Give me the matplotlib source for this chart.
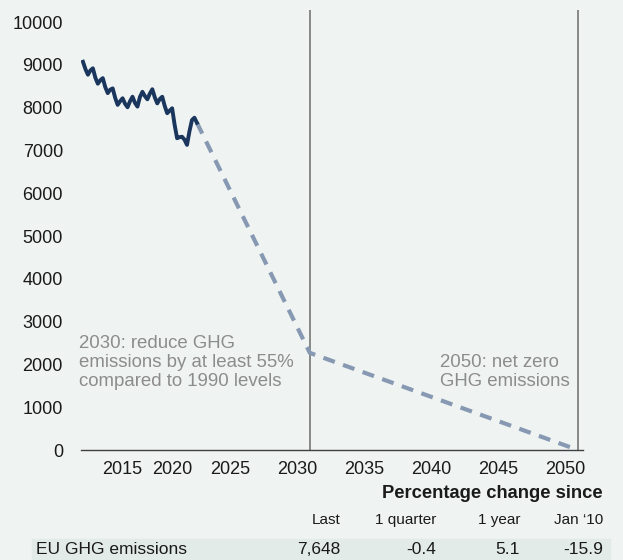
import numpy as np
import matplotlib
matplotlib.use("Agg")
from matplotlib import pyplot as plt
from matplotlib.patches import Rectangle

plt.rcParams['font.family'] = ['Liberation Sans', 'DejaVu Sans']

# quarterly EU GHG emissions, 2011Q1 - 2022Q3
start_year = 2011
emissions = [9072, 8900, 8770, 8870,
             8920, 8700, 8560, 8640,
             8690, 8480, 8340, 8420,
             8450, 8230, 8065, 8150,
             8220, 8090, 8010, 8150,
             8255, 8110, 8025, 8250,
             8370, 8270, 8195, 8330,
             8430, 8240, 8100, 8200,
             8255, 8040, 7870, 7930,
             7985, 7600, 7285, 7310,
             7320, 7250, 7130, 7450,
             7710, 7765, 7648]
quarters = start_year + np.arange(len(emissions)) / 4

# path to targets (end of 2030 and end of 2050)
target_years = [2022.5, 2030.92, 2050.92]
target_values = [7648, 2270, 0]
target_lines = [2030.92, 2050.92]

xticks = [2015, 2020, 2025, 2030, 2035, 2040, 2045, 2050]
yticks = [0, 1000, 2000, 3000, 4000, 5000, 6000, 7000, 8000, 9000, 10000]

table_cols = ["Last", "1 quarter", "1 year", "Jan \u201810"]
table_name = "EU GHG emissions"
table_vals = ["7,648", "-0.4", "5.1", "-15.9"]

bg = "#eff3f2"
navy = "#1b365d"
dash_col = "#8799b2"
grey_txt = "#8c8c8c"

# history is squeezed compared with the projection part
brk = 2022.5
k = 13.4 / 9.9


def fwd(x):
    x = np.asarray(x, dtype=float)
    return np.where(x <= brk, x - brk, (x - brk) * k)


def inv(y):
    y = np.asarray(y, dtype=float)
    return np.where(y <= 0, y + brk, y / k + brk)


fig = plt.figure(figsize=(6.23, 5.6), dpi=100, facecolor=bg)
ax = fig.add_axes([0.130, 0.1964, 0.806, 0.7856], facecolor=bg)
ax.set_xscale('function', functions=(fwd, inv))

for xl in target_lines:
    ax.axvline(xl, color="#7f7f7f", lw=1.3, zorder=1)

ax.plot(target_years, target_values, color=dash_col, lw=3, ls=(0, (2.9, 2.1)), zorder=2)
ax.plot(quarters, emissions, color=navy, lw=2.8, solid_joinstyle='round', zorder=3)

ax.set_xlim(2010.8, 2051.3)
ax.set_ylim(0, 10280)
ax.set_xticks(xticks)
ax.set_xticklabels([str(t) for t in xticks])
ax.set_yticks(yticks)
ax.xaxis.set_minor_locator(matplotlib.ticker.NullLocator())
ax.tick_params(axis='both', length=0, labelsize=13, colors="#1a1a1a")
ax.tick_params(axis='y', pad=13)
ax.tick_params(axis='x', pad=8)
for s in ['top', 'right', 'left']:
    ax.spines[s].set_visible(False)
ax.spines['bottom'].set_color("#404040")
ax.spines['bottom'].set_linewidth(1.0)

ax.text(2010.6, 2050, "2030: reduce GHG\nemissions by at least 55%\ncompared to 1990 levels",
        color=grey_txt, fontsize=13.4, ha='left', va='center', linespacing=1.16)
ax.text(2040.6, 1820, "2050: net zero\nGHG emissions",
        color=grey_txt, fontsize=13.4, ha='left', va='center', linespacing=1.16)

# table under the chart
fig.patches.append(Rectangle((32 / 623, 0), 578 / 623, 21 / 560,
                             transform=fig.transFigure, color="#e3ebe8", zorder=0))
fig.text(603 / 623, 1 - 493 / 560, "Percentage change since", fontsize=13.2,
         fontweight='bold', ha='right', va='center', color="#1a1a1a")
col_right = [340, 436, 520, 603]
for xr, c, v in zip(col_right, table_cols, table_vals):
    fig.text(xr / 623, 1 - 520 / 560, c, fontsize=11, ha='right', va='center', color="#1a1a1a")
    fig.text(xr / 623, 1 - 549 / 560, v, fontsize=12.5, ha='right', va='center', color="#1a1a1a")
fig.text(36 / 623, 1 - 549 / 560, table_name, fontsize=12.5, ha='left', va='center', color="#1a1a1a")

fig.savefig("out.png", dpi=100, facecolor=bg)
